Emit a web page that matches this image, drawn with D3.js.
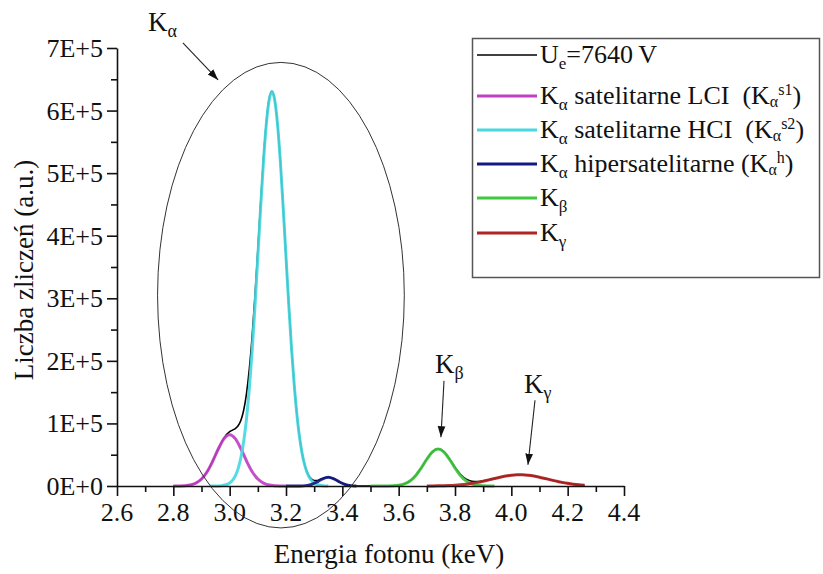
<!DOCTYPE html>
<html lang="pl">
<head>
<meta charset="utf-8">
<script src="https://cdn.jsdelivr.net/npm/d3@7"></script>
</head>
<body style="margin:0;background:#fff">
<script>
// ---- data (energy in keV, counts) ----
const totalE = [2.80, 2.84, 2.88, 2.90, 2.92, 2.94, 2.96, 2.98, 3.00, 3.01, 3.02, 3.03, 3.04, 3.05, 3.06, 3.07, 3.08, 3.09, 3.10, 3.11, 3.12, 3.13, 3.14, 3.15, 3.16, 3.17, 3.18, 3.19, 3.20, 3.21, 3.22, 3.23, 3.24, 3.25, 3.26, 3.27, 3.28, 3.29, 3.30, 3.31, 3.32, 3.33, 3.35, 3.37, 3.39, 3.41, 3.43, 3.45, 3.50, 3.56, 3.60, 3.62, 3.64, 3.66, 3.68, 3.70, 3.72, 3.74, 3.76, 3.78, 3.80, 3.82, 3.84, 3.86, 3.88, 3.90, 3.92, 3.94, 3.96, 3.98, 4.00, 4.02, 4.04, 4.06, 4.08, 4.10, 4.12, 4.14, 4.16, 4.18, 4.20, 4.22, 4.24, 4.26]
const totalC = [0, 490, 4600, 11100, 22800, 39900, 59500, 76900, 86800, 89300, 91800, 96200, 105100, 121600, 148500, 187900, 240300, 304600, 377300, 452500, 522800, 580400, 618100, 630900, 617000, 577850, 518300, 445200, 366200, 288400, 217500, 157100, 108600, 72000, 45900, 28300, 17400, 11300, 8900, 8800, 10200, 12050, 14000, 11500, 6400, 2400, 600, 100, 0, 90, 1170, 3300, 8000, 16400, 28700, 42880, 54650, 59270, 54970, 43590, 29980, 18390, 10960, 7540, 6970, 8080, 9920, 12000, 14100, 15900, 17200, 17900, 17900, 17200, 15900, 14100, 12000, 9830, 7730, 5800, 4240, 2960, 1990, 1280]

const lciE = [2.80, 2.82, 2.84, 2.86, 2.88, 2.90, 2.92, 2.94, 2.96, 2.98, 3.00, 3.02, 3.04, 3.06, 3.08, 3.10, 3.12, 3.14, 3.16, 3.18, 3.20]
const lciC = [0, 125, 490, 1600, 4600, 11100, 22800, 39900, 59500, 75700, 82000, 75700, 59500, 39900, 22800, 11100, 4600, 1600, 490, 125, 0]

const hciE = [2.93, 2.95, 2.97, 2.99, 3.00, 3.01, 3.02, 3.03, 3.04, 3.05, 3.06, 3.07, 3.08, 3.09, 3.10, 3.11, 3.12, 3.13, 3.14, 3.15, 3.16, 3.17, 3.18, 3.19, 3.20, 3.21, 3.22, 3.23, 3.24, 3.25, 3.26, 3.27, 3.28, 3.29, 3.30, 3.31, 3.33, 3.35]
const hciC = [0, 100, 550, 2400, 4800, 8900, 16100, 27700, 45600, 71900, 108600, 157100, 217500, 288400, 366200, 445200, 518200, 577600, 616500, 630000, 616500, 577600, 518200, 445200, 366200, 288400, 217500, 157100, 108600, 71900, 45600, 27700, 16100, 8900, 4800, 2400, 550, 100]

const hyperE = [3.20, 3.25, 3.27, 3.29, 3.31, 3.33, 3.35, 3.37, 3.39, 3.41, 3.43, 3.45]
const hyperC = [0, 100, 600, 2400, 6400, 11500, 14000, 11500, 6400, 2400, 600, 100]

const betaE = [3.50, 3.56, 3.58, 3.60, 3.62, 3.64, 3.66, 3.68, 3.70, 3.72, 3.74, 3.76, 3.78, 3.80, 3.82, 3.84, 3.86, 3.88, 3.90, 3.92, 3.94]
const betaC = [0, 90, 350, 1170, 3300, 8000, 16400, 28700, 42800, 54500, 59000, 54500, 42800, 28700, 16400, 8000, 3300, 1170, 350, 90, 0]

const gammaE = [3.70, 3.72, 3.74, 3.76, 3.78, 3.80, 3.82, 3.84, 3.86, 3.88, 3.90, 3.92, 3.94, 3.96, 3.98, 4.00, 4.02, 4.04, 4.06, 4.08, 4.10, 4.12, 4.14, 4.16, 4.18, 4.20, 4.22, 4.24, 4.26]
const gammaC = [78, 150, 270, 470, 790, 1280, 1990, 2960, 4240, 5800, 7730, 9830, 12000, 14100, 15900, 17200, 17900, 17900, 17200, 15900, 14100, 12000, 9830, 7730, 5800, 4240, 2960, 1990, 1280]

const xTicks = [2.6, 2.8, 3.0, 3.2, 3.4, 3.6, 3.8, 4.0, 4.2, 4.4]
const yTicks = [0, 1e5, 2e5, 3e5, 4e5, 5e5, 6e5, 7e5]
const yTickLabels = ["0E+0", "1E+5", "2E+5", "3E+5", "4E+5", "5E+5", "6E+5", "7E+5"]

const seriesNames = ["total", "lci", "hci", "hyper", "beta", "gamma"]
const seriesColors = ["#000000", "#c040c4", "#48d8e0", "#141a84", "#40c840", "#b02424"]

// annotations in data units: label anchor, arrow start, arrow tip
const peakLabels = ["α", "β", "γ"]
const labelPos = [[2.71, 7.27e5], [3.729, 1.81e5], [4.045, 1.49e5]]
const arrowFrom = [[2.834, 7.08e5], [3.761, 1.68e5], [4.084, 1.37e5]]
const arrowTo = [[2.959, 6.49e5], [3.750, 0.78e5], [4.059, 0.34e5]]
const ellipseCenter = [3.182, 3.05e5]
const ellipseRadius = [0.438, 3.72e5]

const FONT = "Liberation Serif"

// ---- layout ----
const svg = d3.select("body").append("svg")
  .attr("width", 823).attr("height", 574)
  .style("display", "block")
const x = d3.scaleLinear().domain([2.6, 4.4]).range([117, 624])
const y = d3.scaleLinear().domain([0, 7e5]).range([486, 48])

const line = d3.line().x(d => x(d[0])).y(d => y(d[1])).curve(d3.curveMonotoneX)
const zip = (a, b) => a.map((v, i) => [v, b[i]])

const seriesData = [
  zip(totalE, totalC), zip(lciE, lciC), zip(hciE, hciC),
  zip(hyperE, hyperC), zip(betaE, betaC), zip(gammaE, gammaC)
]

// sum curve underneath, components on top
svg.append("path")
  .attr("d", line(seriesData[0]))
  .attr("fill", "none").attr("stroke", seriesColors[0]).attr("stroke-width", 1.6)

seriesData.slice(1).forEach((d, i) => {
  svg.append("path")
    .attr("d", line(d))
    .attr("fill", "none")
    .attr("stroke", seriesColors[i + 1])
    .attr("stroke-width", 3)
    .attr("stroke-opacity", 0.92)
    .attr("stroke-linejoin", "round")
})

// ---- axes: ticks drawn by d3, labels written as plain texts ----
const xAxisG = svg.append("g").attr("transform", `translate(0,${y(0)})`)
xAxisG.call(d3.axisBottom(x).tickValues(xTicks).tickFormat("").tickSize(10).tickSizeOuter(0))
xAxisG.append("g")
  .call(d3.axisBottom(x).tickValues(d3.range(2.7, 4.4, 0.2)).tickSize(6).tickFormat(""))
  .call(g => g.select(".domain").remove())

const yAxisG = svg.append("g").attr("transform", `translate(${x(2.6)},0)`)
yAxisG.call(d3.axisLeft(y).tickValues(yTicks).tickFormat("").tickSize(10).tickSizeOuter(0))
yAxisG.append("g")
  .call(d3.axisLeft(y).tickValues(d3.range(0.5e5, 7e5, 1e5)).tickSize(6).tickFormat(""))
  .call(g => g.select(".domain").remove())

svg.selectAll(".domain, .tick line").attr("stroke", "#111").attr("stroke-width", 1.6)

svg.selectAll(".xlab").data(xTicks).join("text")
  .attr("x", d => x(d)).attr("y", y(0) + 35)
  .attr("text-anchor", "middle").attr("font-family", FONT).attr("font-size", 26).attr("fill", "#111")
  .text(d => d3.format(".1f")(d))

svg.selectAll(".ylab").data(yTicks).join("text")
  .attr("x", x(2.6) - 14).attr("y", d => y(d) + 9)
  .attr("text-anchor", "end").attr("font-family", FONT).attr("font-size", 26).attr("fill", "#111")
  .text((d, i) => yTickLabels[i])

svg.append("text")
  .attr("x", 389).attr("y", 563)
  .attr("text-anchor", "middle").attr("font-family", FONT).attr("font-size", 27).attr("fill", "#111")
  .text("Energia fotonu (keV)")

svg.append("text")
  .attr("transform", "translate(33,270) rotate(-90)")
  .attr("text-anchor", "middle").attr("font-family", FONT).attr("font-size", 27).attr("fill", "#111")
  .text("Liczba zliczeń (a.u.)")

// ---- ellipse and arrows ----
svg.append("ellipse")
  .attr("cx", x(ellipseCenter[0])).attr("cy", y(ellipseCenter[1]))
  .attr("rx", x(ellipseCenter[0] + ellipseRadius[0]) - x(ellipseCenter[0]))
  .attr("ry", y(0) - y(ellipseRadius[1]))
  .attr("fill", "none").attr("stroke", "#333").attr("stroke-width", 1)

svg.append("defs").append("marker")
  .attr("id", "head").attr("viewBox", "0 0 10 10").attr("refX", 10).attr("refY", 5)
  .attr("markerWidth", 11).attr("markerHeight", 11).attr("markerUnits", "userSpaceOnUse")
  .attr("orient", "auto")
  .append("path").attr("d", "M0,1.5 L10,5 L0,8.5 Z").attr("fill", "#111")

peakLabels.forEach((g, i) => {
  svg.append("line")
    .attr("x1", x(arrowFrom[i][0])).attr("y1", y(arrowFrom[i][1]))
    .attr("x2", x(arrowTo[i][0])).attr("y2", y(arrowTo[i][1]))
    .attr("stroke", "#222").attr("stroke-width", 1.1)
    .attr("marker-end", "url(#head)")
  const t = svg.append("text").attr("font-family", FONT)
    .attr("x", x(labelPos[i][0])).attr("y", y(labelPos[i][1]))
    .attr("font-size", 27).attr("fill", "#111")
  t.append("tspan").text("K")
  t.append("tspan").attr("font-size", 18).attr("dy", 6).text(g)
})

// ---- legend ----
const legend = svg.append("g")
legend.append("rect")
  .attr("x", 472.5).attr("y", 38.5).attr("width", 347).attr("height", 239)
  .attr("fill", "#fff").attr("stroke", "#555").attr("stroke-width", 1.5)

const rowY = [55, 96, 130, 164, 198, 233]
// rich text parts: [text, fontSize, shift from baseline]
const legendParts = [
  [["U", 26, 0], ["e", 17, 6], ["=7640\u2009V", 26, 0]],
  [["K", 26, 0], ["α", 17, 6], [" satelitarne LCI \u00a0(K", 26, 0], ["α", 16, 3], ["s1", 16, -9], [")", 26, 0]],
  [["K", 26, 0], ["α", 17, 6], [" satelitarne HCI \u00a0(K", 26, 0], ["α", 16, 3], ["s2", 16, -9], [")", 26, 0]],
  [["K", 26, 0], ["α", 17, 6], [" hipersatelitarne (K", 26, 0], ["α", 16, 3], ["h", 16, -9], [")", 26, 0]],
  [["K", 26, 0], ["β", 17, 6]],
  [["K", 26, 0], ["γ", 17, 6]]
]

seriesNames.forEach((name, i) => {
  legend.append("line")
    .attr("x1", 477).attr("x2", 537).attr("y1", rowY[i]).attr("y2", rowY[i])
    .attr("stroke", seriesColors[i]).attr("stroke-width", i === 0 ? 1.6 : 3)
  const t = legend.append("text").attr("font-family", FONT)
    .attr("x", 540).attr("y", rowY[i] + 8).attr("fill", "#111")
  let prev = 0
  legendParts[i].forEach(([txt, size, shift]) => {
    t.append("tspan").attr("font-size", size).attr("dy", shift - prev).text(txt)
    prev = shift
  })
})
</script>
</body>
</html>
